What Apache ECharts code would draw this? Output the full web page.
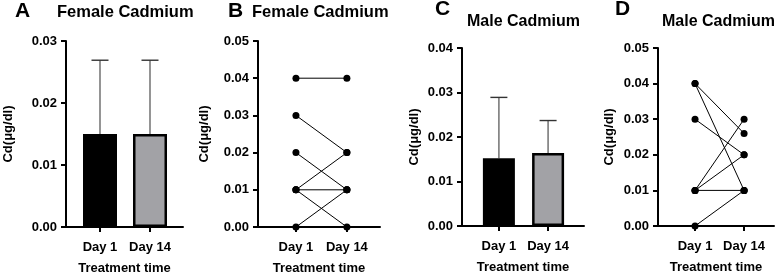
<!DOCTYPE html>
<html><head><meta charset="utf-8">
<script src="https://cdn.jsdelivr.net/npm/echarts@6/dist/echarts.min.js"></script>
<style>html,body{margin:0;padding:0;background:#fff}#c{width:777px;height:273px}</style>
</head><body><div id="c"></div>
<script>
// ---- data ----
const catValues = [1, 2];
const catLabels = ['Day 1', 'Day 14'];
const yTitle = 'Cd(μg/dl)';
const xTitle = 'Treatment time';
const panelLetters = ['A', 'B', 'C', 'D'];
const panelTitles = ['Female Cadmium', 'Female Cadmium', 'Male Cadmium', 'Male Cadmium'];
const yMax = [0.03, 0.05, 0.04, 0.05];
// Panel A (bar, mean + SD)
const femaleMean = [0.015, 0.015];
const femaleUpper = [0.0269, 0.0269];
// Panel B (paired)
const femaleDay1 = [0.04, 0.03, 0.02, 0.01, 0.01, 0.01, 0.00];
const femaleDay14 = [0.04, 0.02, 0.01, 0.02, 0.01, 0.00, 0.01];
// Panel C (bar, mean + SD)
const maleMean = [0.0152, 0.0164];
const maleUpper = [0.0289, 0.0237];
// Panel D (paired)
const maleDay1 = [0.04, 0.04, 0.03, 0.01, 0.01, 0.01, 0.00];
const maleDay14 = [0.026, 0.01, 0.02, 0.03, 0.02, 0.01, 0.01];

// ---- layout ----
const FONT = '"Liberation Sans", Arial, sans-serif';
const grids = [
  {left: 66, top: 41, width: 117, height: 186},
  {left: 258, top: 41, width: 122, height: 186},
  {left: 462, top: 48, width: 122, height: 178},
  {left: 658, top: 48, width: 116, height: 178}
].map(g => Object.assign({outerBoundsMode: 'none', containLabel: false}, g));
const xRanges = [[0.32, 2.66], [0.255, 2.65], [0.25, 2.73], [0.245, 2.61]];
const yNameGaps = [51, 47, 41, 42];
const letterPos = [[15, 1], [228, 1], [435, -1], [615, -1]];
const titlePos = [[57, 4], [252, 4], [467, 14], [662, 14]];
const titleSizes = [16.5, 16.5, 16, 16];
const barW = [34, 0, 32, 0];
const barColors = ['#000000', '#a2a2a6'];

const txt = {fontFamily: FONT, fontWeight: 'bold', color: '#000'};

const xAxes = grids.map((g, i) => ({
  type: 'value', gridIndex: i, min: xRanges[i][0], max: xRanges[i][1],
  axisLine: {show: true, onZero: false, lineStyle: {color: '#000', width: 2}},
  axisTick: {show: true, customValues: catValues, length: 5, lineStyle: {color: '#000', width: 2}},
  axisLabel: Object.assign({customValues: catValues, margin: 14, fontSize: 13,
    formatter: v => catLabels[catValues.indexOf(Math.round(v))] || ''}, txt),
  splitLine: {show: false},
  name: xTitle, nameLocation: 'middle', nameGap: 35,
  nameTextStyle: Object.assign({fontSize: 13}, txt)
}));
const yAxes = grids.map((g, i) => ({
  type: 'value', gridIndex: i, min: 0, max: yMax[i], interval: 0.01,
  axisLine: {show: true, lineStyle: {color: '#000', width: 2}},
  axisTick: {show: true, length: 5, lineStyle: {color: '#000', width: 2}},
  axisLabel: Object.assign({margin: 9, fontSize: 13, formatter: v => v.toFixed(2)}, txt),
  splitLine: {show: false},
  name: yTitle, nameLocation: 'middle', nameGap: yNameGaps[i],
  nameTextStyle: Object.assign({fontSize: 13}, txt)
}));

const series = [];
function barPanel(idx, mean, upper) {
  series.push({
    type: 'bar', xAxisIndex: idx, yAxisIndex: idx, barWidth: barW[idx],
    data: catValues.map((c, k) => ({
      value: [c, mean[k]],
      itemStyle: {color: barColors[k], borderColor: '#000', borderWidth: k === 0 ? 0 : 2.5}
    })),
    z: 3
  });
  series.push({
    type: 'custom', xAxisIndex: idx, yAxisIndex: idx, z: 2,
    data: catValues.map((c, k) => [c, mean[k], upper[k]]),
    renderItem: (params, api) => {
      const p0 = api.coord([api.value(0), api.value(1)]);
      const p1 = api.coord([api.value(0), api.value(2)]);
      return {type: 'group', children: [
        {type: 'line', shape: {x1: p0[0], y1: p0[1], x2: p1[0], y2: p1[1]}, style: {stroke: '#7a7a7a', lineWidth: 1.6}},
        {type: 'line', shape: {x1: p1[0] - 8.5, y1: p1[1], x2: p1[0] + 8.5, y2: p1[1]}, style: {stroke: '#333', lineWidth: 1.4}}
      ]};
    }
  });
}
function pairPanel(idx, d1, d14) {
  d1.forEach((v, k) => {
    series.push({
      type: 'line', xAxisIndex: idx, yAxisIndex: idx, clip: false,
      data: [[catValues[0], v], [catValues[1], d14[k]]],
      symbol: 'circle', symbolSize: 7,
      itemStyle: {color: '#000'}, lineStyle: {color: '#000', width: 1},
      z: 4, silent: true, animation: false
    });
  });
}
barPanel(0, femaleMean, femaleUpper);
pairPanel(1, femaleDay1, femaleDay14);
barPanel(2, maleMean, maleUpper);
pairPanel(3, maleDay1, maleDay14);

const titles = [];
panelLetters.forEach((l, i) => titles.push({text: l, left: letterPos[i][0], top: letterPos[i][1], padding: 0,
  textStyle: Object.assign({fontSize: 21}, txt)}));
panelTitles.forEach((t, i) => titles.push({text: t, left: titlePos[i][0], top: titlePos[i][1], padding: 0,
  textStyle: Object.assign({fontSize: titleSizes[i]}, txt)}));

const chart = echarts.init(document.getElementById('c'), null, {renderer: 'canvas'});
chart.setOption({
  animation: false,
  backgroundColor: '#fff',
  title: titles,
  grid: grids,
  xAxis: xAxes,
  yAxis: yAxes,
  series: series
});
</script></body></html>
